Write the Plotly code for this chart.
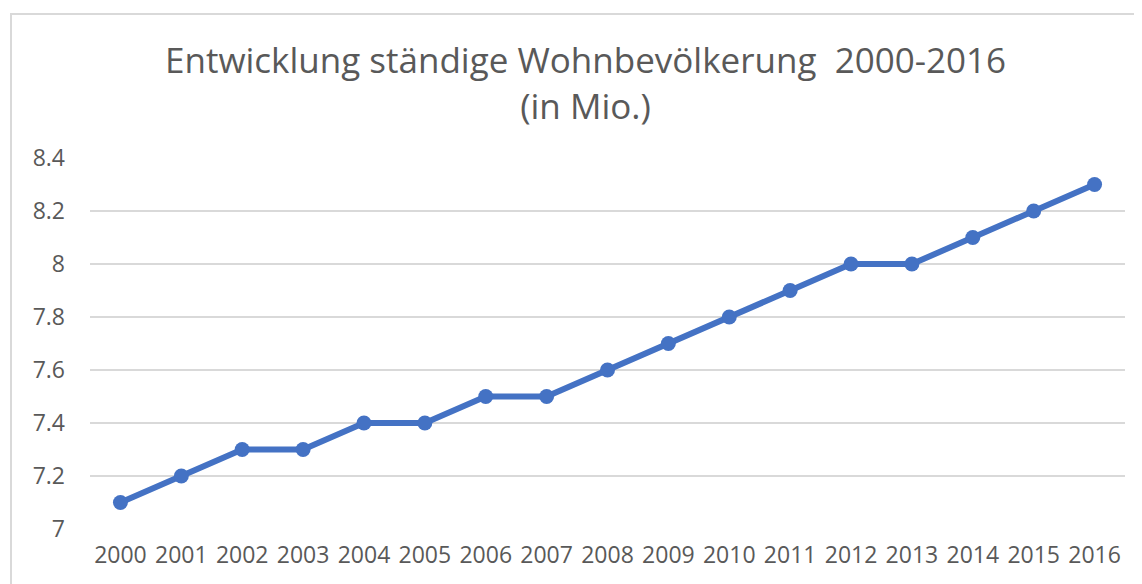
import plotly.graph_objects as go

years = [str(y) for y in range(2000, 2017)]
population = [7.1, 7.2, 7.3, 7.3, 7.4, 7.4, 7.5, 7.5, 7.6, 7.7, 7.8, 7.9, 8.0, 8.0, 8.1, 8.2, 8.3]
y_ticks = [7, 7.2, 7.4, 7.6, 7.8, 8, 8.2, 8.4]
y_tick_labels = ["7", "7.2", "7.4", "7.6", "7.8", "8", "8.2", "8.4"]
title_lines = ["Entwicklung ständige Wohnbevölkerung  2000-2016", "(in Mio.)"]

# page has an 8px body margin; figure coordinates are page coordinates minus 8
OFF = 8
W, H = 1142 - OFF, 584 - OFF
ml, mt = 90 - OFF, 158 - OFF
mr = W - (1125 - OFF)
mb = H - (529 - OFF)
pw, ph = W - ml - mr, H - mt - mb

def px_x(page_x):
    return (page_x - OFF - ml) / pw

def px_y(page_y):
    return 1 - (page_y - OFF - mt) / ph

fig = go.Figure()
fig.add_trace(go.Scatter(
    x=list(range(len(years))), y=population, mode="lines+markers",
    line=dict(color="#4472C4", width=6),
    marker=dict(color="#4472C4", size=15),
    showlegend=False, hoverinfo="skip",
))

font_family = "Open Sans, Noto Sans, sans-serif"
grey = "#595959"

fig.update_layout(
    width=W, height=H,
    margin=dict(l=ml, r=mr, t=mt, b=mb),
    paper_bgcolor="white", plot_bgcolor="white",
    font=dict(family=font_family, color=grey),
    xaxis=dict(
        range=[-0.5, len(years) - 0.5],
        tickmode="array", tickvals=list(range(len(years))), ticktext=years,
        showgrid=False, zeroline=False, showline=False, ticks="",
        tickfont=dict(size=23, color=grey), ticklabelstandoff=10,
        fixedrange=True,
    ),
    yaxis=dict(
        range=[7, 8.4],
        tickmode="array", tickvals=y_ticks, ticktext=y_tick_labels,
        showgrid=True, gridcolor="#d9d9d9", gridwidth=2,
        zeroline=False, showline=False, ticks="",
        tickfont=dict(size=23, color=grey), ticklabelstandoff=24,
        fixedrange=True,
    ),
    annotations=[
        dict(text="<br>".join(title_lines),
             xref="paper", yref="paper", x=px_x(585), y=px_y(82),
             xanchor="center", yanchor="middle", showarrow=False, align="center",
             font=dict(size=35, color=grey, family=font_family)),
    ],
    shapes=[
        dict(type="rect", xref="paper", yref="paper",
             x0=px_x(11), x1=px_x(1160),
             y0=px_y(600), y1=px_y(14),
             line=dict(color="#d9d9d9", width=2), fillcolor="rgba(0,0,0,0)", layer="below"),
    ],
)

fig.write_html("out.html")
